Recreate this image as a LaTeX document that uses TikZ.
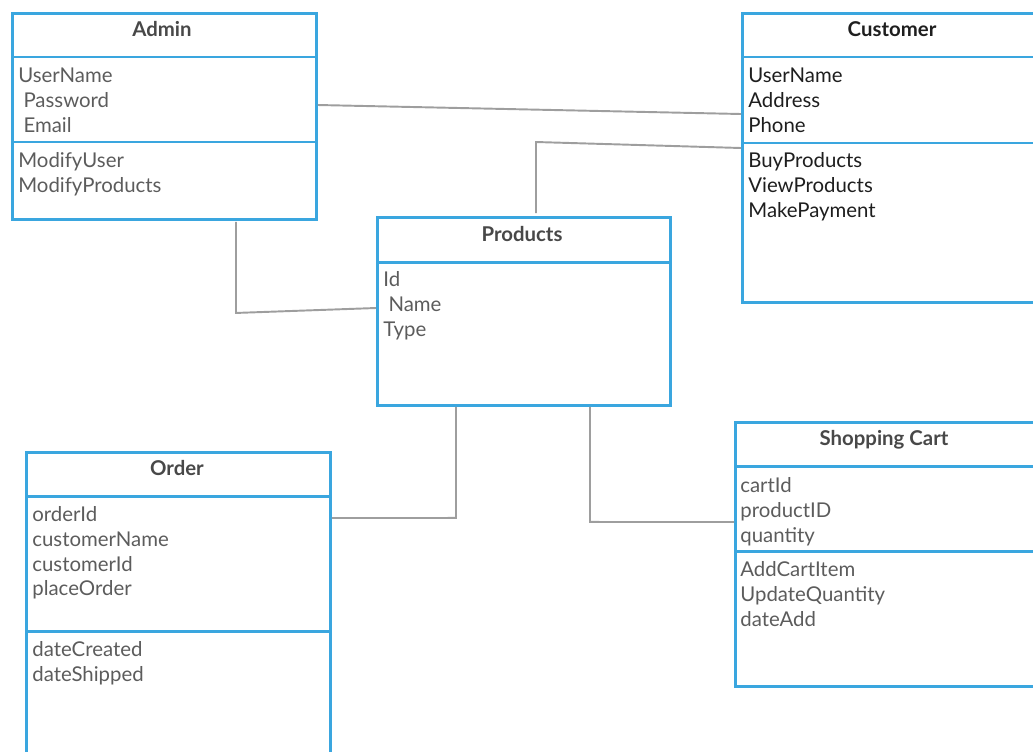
\documentclass[tikz,border=0pt]{standalone}
\usepackage{fontspec}
\setmainfont{Lato}
\usepackage{tikz}
\usetikzlibrary{calc}

\definecolor{boxblue}{RGB}{58,166,223}
\definecolor{linkgray}{RGB}{158,158,158}
\definecolor{textgray}{RGB}{92,92,92}
\definecolor{titlegray}{RGB}{72,72,72}
\definecolor{custtext}{RGB}{30,30,30}

\tikzset{
  classbox/.style={draw=boxblue, line width=1.7pt, rectangle, inner sep=0pt, anchor=north west},
  divider/.style={draw=boxblue, line width=1.7pt},
  classname/.style={font=\fontsize{11.6}{14}\selectfont\bfseries, text=titlegray, anchor=base, inner sep=0pt},
  attr/.style={font=\fontsize{11.6}{14}\selectfont, text=textgray, anchor=base west, inner sep=0pt},
  link/.style={draw=linkgray, line width=1.1pt}
}

\begin{document}
\begin{tikzpicture}[x=0.02cm, y=-0.02cm]
      \useasboundingbox (0,0) rectangle (1033,751);

      % class boxes
      \node[classbox, minimum width=6.08cm, minimum height=4.12cm] (admin) at (11,12) {};
      \node[classbox, minimum width=6.00cm, minimum height=5.78cm] (customer) at (741,12) {};
      \node[classbox, minimum width=5.86cm, minimum height=3.76cm] (products) at (376,216) {};
      \node[classbox, minimum width=6.08cm, minimum height=6.20cm] (order) at (25,451) {};
      \node[classbox, minimum width=6.20cm, minimum height=5.28cm] (cart) at (734,421) {};

      \draw[divider] ($(admin.north west)+(0,45)$) -- ($(admin.north east)+(0,45)$);
      \draw[divider] ($(admin.north west)+(0,130)$) -- ($(admin.north east)+(0,130)$);
      \draw[divider] ($(customer.north west)+(0,45)$) -- ($(customer.north east)+(0,45)$);
      \draw[divider] ($(customer.north west)+(0,131)$) -- ($(customer.north east)+(0,131)$);
      \draw[divider] ($(products.north west)+(0,46)$) -- ($(products.north east)+(0,46)$);
      \draw[divider] ($(order.north west)+(0,45)$) -- ($(order.north east)+(0,45)$);
      \draw[divider] ($(order.north west)+(0,180)$) -- ($(order.north east)+(0,180)$);
      \draw[divider] ($(cart.north west)+(0,45)$) -- ($(cart.north east)+(0,45)$);
      \draw[divider] ($(cart.north west)+(0,130)$) -- ($(cart.north east)+(0,130)$);

      % titles
      \node[classname] (admintitle) at (162,36) {Admin};
      \node[classname, text=custtext] (custtitle) at (892,36) {Customer};
      \node[classname] (prodtitle) at (522,241) {Products};
      \node[classname] (ordertitle) at (177,475) {Order};
      \node[classname] (carttitle) at (884,445) {Shopping Cart};

      % Admin
      \node[attr] (adm1) at (18,82) {UserName};
      \node[attr] (adm2) at (18,107) {~Password};
      \node[attr] (adm3) at (18,132) {~Email};
      \node[attr] (adm4) at (18,167) {ModifyUser};
      \node[attr] (adm5) at (18,192) {ModifyProducts};

      % Customer
      \node[attr, text=custtext] (cus1) at (748,82) {UserName};
      \node[attr, text=custtext] (cus2) at (748,107) {Address};
      \node[attr, text=custtext] (cus3) at (748,132) {Phone};
      \node[attr, text=custtext] (cus4) at (748,167) {BuyProducts};
      \node[attr, text=custtext] (cus5) at (748,192) {ViewProducts};
      \node[attr, text=custtext] (cus6) at (748,217) {MakePayment};

      % Products
      \node[attr] (prd1) at (383,286) {Id};
      \node[attr] (prd2) at (383,311) {~Name};
      \node[attr] (prd3) at (383,336) {Type};

      % Order
      \node[attr] (ord1) at (32,521) {orderId};
      \node[attr] (ord2) at (32,546) {customerName};
      \node[attr] (ord3) at (32,571) {customerId};
      \node[attr] (ord4) at (32,595) {placeOrder};
      \node[attr] (ord5) at (32,656) {dateCreated};
      \node[attr] (ord6) at (32,681) {dateShipped};

      % Shopping Cart
      \node[attr] (crt1) at (740,492) {cartId};
      \node[attr] (crt2) at (740,517) {productID};
      \node[attr] (crt3) at (740,542) {quantity};
      \node[attr] (crt4) at (740,576) {AddCartItem};
      \node[attr] (crt5) at (740,601) {UpdateQuantity};
      \node[attr] (crt6) at (740,626) {dateAdd};

      % associations
      \draw[link] ($(admin.north east)+(0,93)$) -- ($(customer.north west)+(0,102)$);
      \draw[link] ($(customer.north west)+(0,136)$) -- ($(products.north)+(12,-74)$) -- ($(products.north)+(12,-3)$);
      \draw[link] ($(admin.south west)+(225,1)$) -- ($(admin.south west)+(225,92)$) -- ($(products.north west)+(0,92)$);
      \draw[link] ($(products.south west)+(80,0)$) -- ($(products.south west)+(80,111)$) -- ($(order.north east)+(0,67)$);
      \draw[link] ($(products.south west)+(214,0)$) -- ($(products.south west)+(214,115)$) -- ($(cart.north west)+(0,101)$);
    \end{tikzpicture}
\end{document}
